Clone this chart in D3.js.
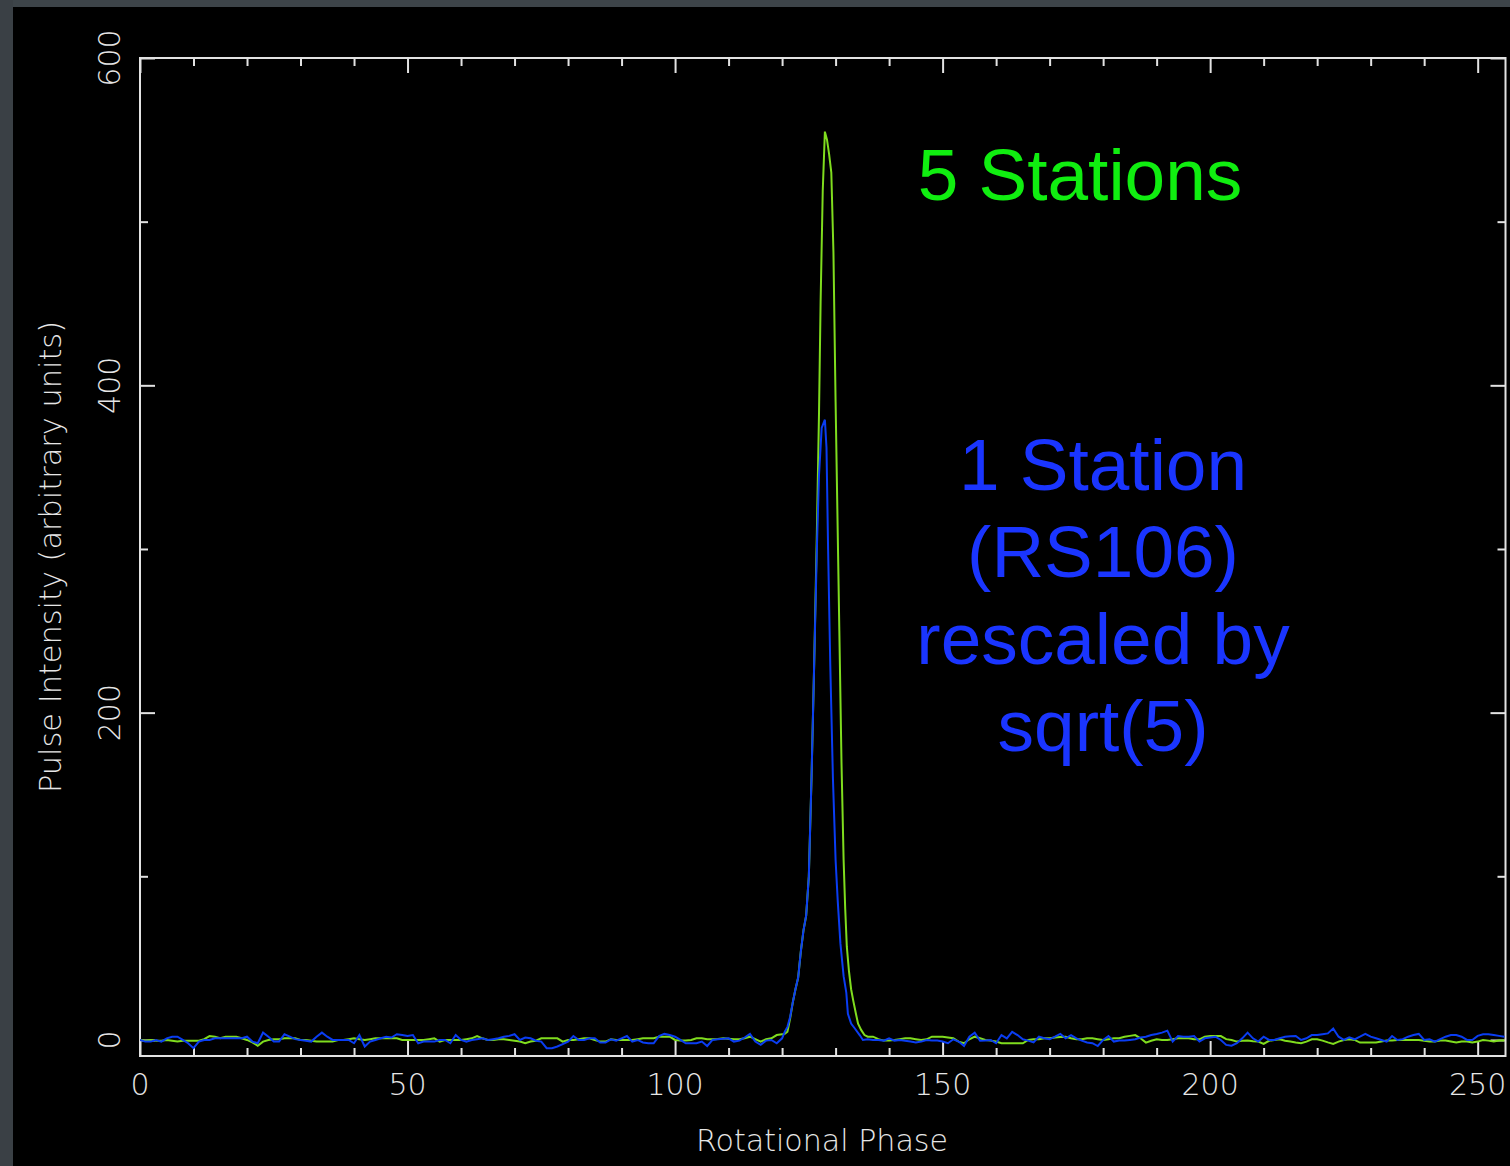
<!DOCTYPE html>
<html>
<head>
<meta charset="utf-8">
<script src="https://cdn.jsdelivr.net/npm/d3@7"></script>
<style>
  html, body { margin: 0; padding: 0; background: #000; }
  svg { display: block; }
  .axis-text { font-family: "DejaVu Sans", sans-serif; font-weight: 200; fill: #e6e6e6; }
</style>
</head>
<body>
<svg id="chart" width="1510" height="1166"></svg>
<script>
// ---------- data ----------
const xTickLabels = [0, 50, 100, 150, 200, 250];
const xMinorTicks = [10,20,30,40,60,70,80,90,110,120,130,140,160,170,180,190,210,220,230,240];
const yTickLabels = [0, 200, 400, 600];
const yMinorTicks = [100, 300, 500];
const xTitle = "Rotational Phase";
const yTitle = "Pulse Intensity (arbitrary units)";
const labelFive = "5 Stations";
const labelOne = ["1 Station", "(RS106)", "rescaled by", "sqrt(5)"];

// 5 stations profile: [phase, intensity]
const fiveStations = [
[0,0],[1,-0.5],[2,0],[3,-0.5],[4,-0.5],[5,0],[6,-0.5],[7,-1],[8,-0.5],[9,-0.5],
[10,-0.5],[11,-0.5],[12,0.5],[13,2.4],[14,2],[15,1],[16,2],[17,2],[18,2],[19,1],
[20,0],[21,-1.5],[22,-3.5],[23,-1],[24,0],[25,0.5],[26,0.5],[27,1],[28,1],[29,1],
[30,0],[31,0],[32,-0.5],[33,-1],[34,-1],[35,-1],[36,-1],[37,0],[38,0],[39,0.5],
[40,1],[41,0.5],[42,0],[43,0.5],[44,1],[45,1],[46,1],[47,1],[48,1],[49,0],
[50,0],[51,0],[52,0],[53,0],[54,0.5],[55,1],[56,-1],[57,0],[58,0],[59,0],
[60,0],[61,0.5],[62,1],[63,2.4],[64,1],[65,0],[66,0],[67,0.5],[68,0.5],[69,0],
[70,-0.5],[71,-1],[72,-2],[73,-1],[74,-0.5],[75,1],[76,1],[77,1],[78,1],[79,-1],
[80,0],[81,0],[82,0.5],[83,1],[84,1],[85,0],[86,-1],[87,-1],[88,0.4],[89,0],
[90,0],[91,0],[92,0],[93,0.5],[94,1],[95,1],[96,1],[97,2],[98,2],[99,2],
[100,0],[101,-0.4],[102,-0.4],[103,0],[104,1],[105,1],[106,0.4],[107,0.4],[108,0.6],[109,1],
[110,0.8],[111,0.4],[112,0.4],[113,1],[114,2],[115,0.5],[116,-1],[117,0.4],[118,1],[119,3],
[120,3.5],[120.5,3.7],[121,5],[121.5,13],[122,23],[122.5,31],[123,38],[123.5,54],[124,67],[124.5,76],
[125,100],[125.5,160],[126,230],[126.5,310],[126.9,383],[127.2,451],[127.6,519],[128,555],[128.4,550],[128.8,541],
[129.2,530],[129.6,481],[130,390],[130.3,330],[130.7,250],[131.1,170],[131.5,110],[131.8,80],[132.1,57],[132.5,42],
[132.9,31],[133.3,24],[133.8,16],[134.2,10],[134.8,6],[135.4,3],[136,2],[137,2],[138,0.5],[139,-0.4],[140,-0.4],
[141,0],[142,0.5],[143,1],[144,1],[145,0.5],[146,0],[147,0.4],[148,2],[149,2],[150,2],
[151,1.5],[152,1],[153,-1],[154,-2],[155,0.4],[156,2],[157,1],[158,0],[159,-0.4],[160,-1],
[161,-2],[162,-2],[163,-2],[164,-2],[165,-2],[166,0],[167,0.4],[168,0.4],[169,1],[170,1],
[171,1.5],[172,1.8],[173,2],[174,1],[175,0.4],[176,0.4],[177,1],[178,1],[179,0.5],[180,0],
[181,0.5],[182,1],[183,1],[184,2],[185,2.5],[186,3],[187,1],[188,-1.6],[189,-0.5],[190,0.4],
[191,0],[192,0],[193,0.5],[194,1],[195,1],[196,1],[197,0.4],[198,0.4],[199,2],[200,2.4],
[201,2.4],[202,2.4],[203,0.5],[204,0],[205,-1],[206,-0.5],[207,-0.4],[208,-0.8],[209,-1],[210,-2.4],
[211,-0.5],[212,0],[213,0.4],[214,-0.5],[215,-1],[216,-1.6],[217,-2],[218,-1],[219,0.4],[220,0.4],
[221,-0.4],[222,-1.5],[223,-2.4],[224,-1],[225,0],[226,0.4],[227,0],[228,-1.6],[229,-1.6],[230,-1.6],
[231,-1.6],[232,-1],[233,-0.4],[234,-0.4],[235,0],[236,0],[237,0],[238,0],[239,0],[240,-0.5],
[241,-1],[242,-1],[243,-0.4],[244,-0.4],[245,-1],[246,-1.6],[247,-1],[248,-1],[249,-1.6],[250,-1],
[251,0],[252,-0.4],[253,-1],[254,-0.4],[255,-0.4]
];

// 1 station (RS106) profile rescaled by sqrt(5): [phase, intensity]
const oneStation = [
[0,0],[1,-1],[2,-1],[3,0],[4,-1],[5,1],[6,2],[7,2],[8,0],[9,-2],
[10,-5],[11,-1],[12,0],[13,0],[14,1],[15,1],[16,1],[17,1],[18,1],[19,1],
[20,2],[21,-1],[22,-2],[23,4.5],[24,2],[25,-1],[26,-1],[27,3.5],[28,2],[29,0.5],
[30,0],[31,-0.5],[32,-1],[33,2],[34,4.5],[35,2],[36,0],[37,0],[38,0],[39,0],
[40,-2],[41,3],[42,-4],[43,-1],[44,0],[45,1],[46,2],[47,1.5],[48,3.5],[49,3],
[50,2.5],[51,3],[52,-2],[53,-1],[54,-1],[55,-1],[56,0],[57,0],[58,-2],[59,3],
[60,0],[61,-1],[62,0],[63,0.5],[64,1],[65,0],[66,0.5],[67,1],[68,2],[69,2.5],
[70,3.5],[71,0],[72,1.5],[73,1],[74,-0.5],[75,-1],[76,-5],[77,-5],[78,-4],[79,-2.5],
[80,-1],[81,2.4],[82,0],[83,0],[84,1],[85,1],[86,-1.6],[87,-1.6],[88,0.4],[89,-0.4],
[90,1],[91,2.4],[92,-1],[93,0],[94,-1.5],[95,-2],[96,-2],[97,2.4],[98,3.7],[99,3],
[100,2],[101,0],[102,-2],[103,-2],[104,-2],[105,-1],[106,-3.7],[107,0],[108,0.4],[109,0.8],
[110,1],[111,-1],[112,-0.4],[113,1.5],[114,3.7],[115,-1],[116,-3],[117,-0.4],[118,0],[119,-2],
[120,1],[120.5,5],[121,8],[121.5,14],[122,23],[122.5,31],[123,38],[123.5,54],[124,67],[124.5,76],
[125,100],[125.5,160],[126,230],[126.5,300],[126.9,345],[127.4,374],[128,379],[128.3,362],[128.6,300],[129,230],
[129.5,160],[130,110],[130.4,85],[130.9,59],[131.5,39],[132,29],[132.3,16],[132.9,10],[133.6,7],[134.5,3],
[135.1,0],[136,0.5],[137,0],[138,0],[139,-0.4],[140,1],
[141,-0.4],[142,0],[143,-0.5],[144,-1],[145,-1.5],[146,-1],[147,0],[148,-0.4],[149,-0.4],[150,-1],
[151,-2],[152,0.4],[153,-1],[154,-3.7],[155,2],[156,4.5],[157,-0.5],[158,-0.4],[159,0],[160,-2],
[161,3],[162,1],[163,5],[164,3],[165,0.4],[166,-0.4],[167,-1.5],[168,2],[169,1],[170,0.4],
[171,2],[172,3.7],[173,1],[174,3],[175,1],[176,-0.4],[177,-1.5],[178,-2],[179,-3.7],[180,0],
[181,2.4],[182,-1],[183,-0.4],[184,-0.4],[185,0],[186,0.4],[187,1.5],[188,2],[189,3],[190,3.7],
[191,4.5],[192,5.7],[193,-1],[194,2.4],[195,2],[196,2],[197,2.4],[198,-1],[199,1],[200,1.5],
[201,2],[202,0],[203,-3],[204,-3.5],[205,-2],[206,1],[207,4.5],[208,1],[209,-1],[210,2],
[211,0],[212,0],[213,1],[214,2],[215,2.2],[216,2.4],[217,0],[218,1],[219,3],[220,3],
[221,3.5],[222,4],[223,7],[224,2],[225,0],[226,1.6],[227,0.4],[228,2],[229,3.7],[230,2],
[231,1],[232,0],[233,-1],[234,2.4],[235,0],[236,0.5],[237,2],[238,3],[239,3.7],[240,0],
[241,0.4],[242,-1],[243,0.5],[244,2],[245,3],[246,3],[247,2],[248,0],[249,0],[250,2.5],
[251,3.5],[252,3.5],[253,3],[254,2.5],[255,2]
];

// ---------- drawing ----------
const W = 1510, H = 1166;
const svg = d3.select("#chart");

svg.append("rect").attr("x", 0).attr("y", 0).attr("width", W).attr("height", H).attr("fill", "#000");
// grey border strips (top and left)
svg.append("rect").attr("x", 0).attr("y", 0).attr("width", W).attr("height", 7).attr("fill", "#3d4449");
svg.append("rect").attr("x", 0).attr("y", 0).attr("width", 13).attr("height", H).attr("fill", "#3a4045");

const plot = { left: 140, right: 1505.5, top: 58, bottom: 1056 };
const x = d3.scaleLinear().domain([0, 255.2]).range([plot.left, plot.right]);
const y = d3.scaleLinear().domain([-9.8, 600]).range([plot.bottom, plot.top]);

const axisColor = "#e2e2e2";

// frame
svg.append("rect")
  .attr("x", plot.left).attr("y", plot.top)
  .attr("width", plot.right - plot.left).attr("height", plot.bottom - plot.top)
  .attr("fill", "none").attr("stroke", axisColor).attr("stroke-width", 2);

function styleAxis(g) {
  g.select(".domain").remove();
  g.selectAll(".tick line").attr("stroke", axisColor).attr("stroke-width", 2);
}

// x axes (bottom with labels, top without)
svg.append("g").attr("transform", `translate(0,${plot.bottom})`)
  .call(d3.axisBottom(x).tickValues(xMinorTicks).tickSize(-8).tickFormat(""))
  .call(styleAxis);
const xb = svg.append("g").attr("transform", `translate(0,${plot.bottom})`)
  .call(d3.axisBottom(x).tickValues(xTickLabels).tickSizeInner(-15).tickSizeOuter(0).tickPadding(0))
  .call(styleAxis);
xb.selectAll(".tick text").remove();
svg.append("g").attr("transform", `translate(0,${plot.top})`)
  .call(d3.axisTop(x).tickValues(xMinorTicks).tickSize(-8).tickFormat(""))
  .call(styleAxis);
svg.append("g").attr("transform", `translate(0,${plot.top})`)
  .call(d3.axisTop(x).tickValues(xTickLabels).tickSize(-15).tickFormat(""))
  .call(styleAxis);

svg.append("g").selectAll("text").data(xTickLabels).join("text")
  .attr("class", "axis-text")
  .attr("x", d => x(d)).attr("y", 1095)
  .attr("text-anchor", "middle").attr("font-size", 30)
  .text(d => d);

// y axes
svg.append("g").attr("transform", `translate(${plot.left},0)`)
  .call(d3.axisLeft(y).tickValues(yMinorTicks).tickSize(-8).tickFormat(""))
  .call(styleAxis);
svg.append("g").attr("transform", `translate(${plot.left},0)`)
  .call(d3.axisLeft(y).tickValues(yTickLabels).tickSize(-15).tickFormat(""))
  .call(styleAxis);
svg.append("g").attr("transform", `translate(${plot.right},0)`)
  .call(d3.axisRight(y).tickValues(yMinorTicks).tickSize(-8).tickFormat(""))
  .call(styleAxis);
svg.append("g").attr("transform", `translate(${plot.right},0)`)
  .call(d3.axisRight(y).tickValues(yTickLabels).tickSize(-15).tickFormat(""))
  .call(styleAxis);

svg.append("g").selectAll("text").data(yTickLabels).join("text")
  .attr("class", "axis-text")
  .attr("transform", d => `translate(120,${y(d)}) rotate(-90)`)
  .attr("text-anchor", "middle").attr("font-size", 30)
  .text(d => d);

// axis titles
svg.append("text").attr("class", "axis-text")
  .attr("x", 822).attr("y", 1151)
  .attr("text-anchor", "middle").attr("font-size", 31)
  .attr("textLength", 252).attr("lengthAdjust", "spacingAndGlyphs")
  .text(xTitle);
svg.append("text").attr("class", "axis-text")
  .attr("transform", "translate(61,557) rotate(-90)")
  .attr("text-anchor", "middle").attr("font-size", 31)
  .attr("textLength", 472).attr("lengthAdjust", "spacingAndGlyphs")
  .text(yTitle);

// traces
const line = d3.line().x(d => x(d[0])).y(d => y(d[1]));
svg.append("clipPath").attr("id", "plotclip").append("rect")
  .attr("x", plot.left).attr("y", plot.top)
  .attr("width", plot.right - plot.left).attr("height", plot.bottom - plot.top);

svg.append("path").datum(fiveStations)
  .attr("d", line).attr("fill", "none")
  .attr("stroke", "#7fdc1e").attr("stroke-width", 2)
  .attr("clip-path", "url(#plotclip)");
svg.append("path").datum(oneStation)
  .attr("d", line).attr("fill", "none")
  .attr("stroke", "#0a3df2").attr("stroke-width", 2)
  .attr("clip-path", "url(#plotclip)");

// annotations
svg.append("text")
  .attr("x", 1080).attr("y", 200)
  .attr("text-anchor", "middle")
  .attr("font-family", "'Liberation Sans', Arial, sans-serif")
  .attr("font-size", 73).attr("fill", "#10ee10")
  .text(labelFive);

svg.append("g").selectAll("text").data(labelOne).join("text")
  .attr("x", 1103).attr("y", (d, i) => 490 + i * 87)
  .attr("text-anchor", "middle")
  .attr("font-family", "'Liberation Sans', Arial, sans-serif")
  .attr("font-size", 73).attr("fill", "#1a35ff")
  .text(d => d);
</script>
</body>
</html>
